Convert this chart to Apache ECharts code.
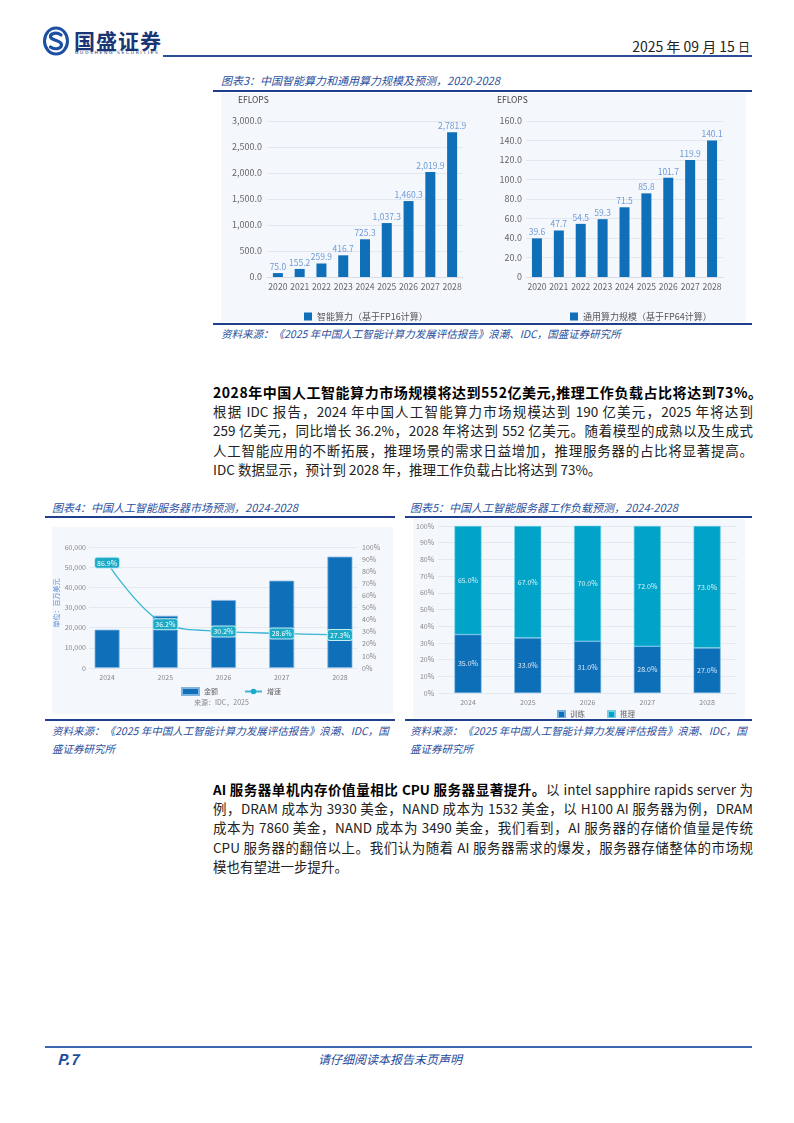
<!DOCTYPE html>
<html><head><meta charset="utf-8">
<script src="https://cdn.jsdelivr.net/npm/echarts@6/dist/echarts.min.js"></script>
<style>
body{margin:0;background:#fff;font-family:"Noto Sans CJK SC","Noto Sans",sans-serif;}
#page{position:relative;width:794px;height:1123px;overflow:hidden;}
.abs{position:absolute;}
.rule{position:absolute;height:2px;background:#1f3f8c;}
.cap{position:absolute;font-size:11px;font-style:italic;color:#2a4f9e;white-space:nowrap;}
.src{position:absolute;font-size:10.5px;font-style:italic;color:#2a4f9e;white-space:nowrap;line-height:18px;}
.para{position:absolute;left:213px;width:540px;font-size:13.5px;color:#222;}
.para div{height:19.2px;line-height:19.2px;text-align:justify;text-align-last:justify;}
.para div.last{text-align-last:left;}
.para div.head{font-size:14px;font-weight:bold;color:#000;white-space:nowrap;letter-spacing:0.55px;text-align-last:left;}
.para b{color:#000;}
.panel{position:absolute;background:#f4f7fc;}
</style></head>
<body><div id="page">
<!-- header -->
<svg class="abs" style="left:43px;top:26px" width="26" height="30" viewBox="0 0 26 30">
  <ellipse cx="13" cy="15" rx="11.5" ry="13" fill="none" stroke="#1d4fa3" stroke-width="3"/>
  <path d="M18 9 C14 6 7 7 7.5 11 C8 14.5 18 14 18.5 18.5 C19 23 11 24 7.5 21" fill="none" stroke="#1d4fa3" stroke-width="3.2" stroke-linecap="round"/>
</svg>
<div class="abs" style="left:74px;top:25px;font-size:21px;font-weight:bold;color:#1a3576;letter-spacing:1px;">国盛证券</div>
<div class="abs" style="left:75px;top:50px;font-size:4.5px;color:#1a3576;letter-spacing:1.6px;font-family:'DejaVu Sans';">GUOSHENG SECURITIES</div>
<div class="abs" style="right:44px;top:36px;font-size:14px;color:#222;">2025 年 09 月 15 <span style="font-size:12px">日</span></div>
<div class="rule" style="left:163px;top:55px;width:589px;background:#2b4e9a;"></div>

<!-- chart 3 -->
<div class="cap" style="left:221px;top:72px;">图表3：中国智能算力和通用算力规模及预测，2020-2028</div>
<div class="rule" style="left:213px;top:90px;width:539px;"></div>
<div class="panel" style="left:221px;top:93px;width:525px;height:229px;"></div>
<div id="c3" class="abs" style="left:221px;top:93px;width:525px;height:229px;"></div>
<div class="rule" style="left:213px;top:323px;width:539px;"></div>
<div class="src" style="left:221px;top:325px;">资料来源：《2025 年中国人工智能计算力发展评估报告》浪潮、IDC，国盛证券研究所</div>

<div class="para" style="top:383px;">
<div class="head">2028年中国人工智能算力市场规模将达到552亿美元,推理工作负载占比将达到73%。</div>
<div>根据 IDC 报告，2024 年中国人工智能算力市场规模达到 190 亿美元，2025 年将达到</div>
<div>259 亿美元，同比增长 36.2%，2028 年将达到 552 亿美元。随着模型的成熟以及生成式</div>
<div>人工智能应用的不断拓展，推理场景的需求日益增加，推理服务器的占比将显著提高。</div>
<div class="last">IDC 数据显示，预计到 2028 年，推理工作负载占比将达到 73%。</div>
</div>

<!-- chart 4 / 5 -->
<div class="cap" style="left:52px;top:499px;">图表4：中国人工智能服务器市场预测，2024-2028</div>
<div class="cap" style="left:410px;top:499px;">图表5：中国人工智能服务器工作负载预测，2024-2028</div>
<div class="rule" style="left:45px;top:516px;width:350px;"></div>
<div class="rule" style="left:405px;top:516px;width:347px;"></div>
<div class="panel" style="left:52px;top:527px;width:341px;height:187px;"></div>
<div id="c4" class="abs" style="left:52px;top:527px;width:341px;height:187px;"></div>
<div class="panel" style="left:413px;top:519px;width:332px;height:199px;"></div>
<div id="c5" class="abs" style="left:413px;top:519px;width:332px;height:199px;"></div>
<div class="rule" style="left:45px;top:719px;width:350px;"></div>
<div class="rule" style="left:405px;top:719px;width:347px;"></div>
<div class="src" style="left:52px;top:722px;">资料来源：《2025 年中国人工智能计算力发展评估报告》浪潮、IDC，国<br>盛证券研究所</div>
<div class="src" style="left:410px;top:722px;">资料来源：《2025 年中国人工智能计算力发展评估报告》浪潮、IDC，国<br>盛证券研究所</div>

<div class="para" style="top:780px;">
<div><b>AI 服务器单机内存价值量相比 CPU 服务器显著提升。</b>以 intel sapphire rapids server 为</div>
<div>例，DRAM 成本为 3930 美金，NAND 成本为 1532 美金，以 H100 AI 服务器为例，DRAM</div>
<div>成本为 7860 美金，NAND 成本为 3490 美金，我们看到，AI 服务器的存储价值量是传统</div>
<div>CPU 服务器的翻倍以上。我们认为随着 AI 服务器需求的爆发，服务器存储整体的市场规</div>
<div class="last">模也有望进一步提升。</div>
</div>

<!-- footer -->
<div class="rule" style="left:45px;top:1046px;width:707px;background:#3d66b0;"></div>
<div class="abs" style="left:57px;top:1048px;font-size:15px;font-weight:bold;font-style:italic;color:#1d4a9c;">P.7</div>
<div class="abs" style="left:318px;top:1050px;font-size:12px;font-style:italic;color:#1d4a9c;">请仔细阅读本报告末页声明</div>
</div>
<script>
// ---- data ----
const years3 = ['2020','2021','2022','2023','2024','2025','2026','2027','2028'];
const aiCompute = [75.0,155.2,259.9,416.7,725.3,1037.3,1460.3,2019.9,2781.9];
const generalCompute = [39.6,47.7,54.5,59.3,71.5,85.8,101.7,119.9,140.1];
const years4 = ['2024','2025','2026','2027','2028'];
const marketAmount = [19000,25900,33700,43300,55200];
const marketGrowth = [86.9,36.2,30.2,28.6,27.3];
const trainShare = [35.0,33.0,31.0,28.0,27.0];
const inferShare = [65.0,67.0,70.0,72.0,73.0];
const name3a = '智能算力（基于FP16计算）';
const name3b = '通用算力规模（基于FP64计算）';

const F = '"Noto Sans CJK SC","Noto Sans",sans-serif';
const fmt1 = v => Number(v).toLocaleString('en-US',{minimumFractionDigits:1,maximumFractionDigits:1});

// ---- chart 3 ----
const c3 = echarts.init(document.getElementById('c3'));
const lbl3 = {fontSize:9,color:'#666',fontFamily:F};
const xl3 = {fontSize:8.6,color:'#666',fontFamily:F,margin:5,interval:0};
const barLbl3 = {show:true,position:'top',distance:2,fontSize:8.5,color:'#6f9bd6',fontFamily:F,formatter:p=>fmt1(p.value)};
c3.setOption({
  animation:false,
  grid:[{left:46,top:28,width:196,height:156},{left:305,top:28,width:197,height:156}],
  xAxis:[
    {gridIndex:0,type:'category',data:years3,axisTick:{show:false},axisLine:{lineStyle:{color:'#d9dee6'}},axisLabel:xl3},
    {gridIndex:1,type:'category',data:years3,axisTick:{show:false},axisLine:{lineStyle:{color:'#d9dee6'}},axisLabel:xl3}
  ],
  yAxis:[
    {gridIndex:0,type:'value',min:0,max:3000,interval:500,axisLabel:Object.assign({margin:5,formatter:v=>fmt1(v)},lbl3),splitLine:{lineStyle:{color:'#e3e7ee'}}},
    {gridIndex:1,type:'value',min:0,max:160,interval:20,axisLabel:Object.assign({margin:4,formatter:v=>v===0?'0':v.toFixed(1)},lbl3),splitLine:{lineStyle:{color:'#e3e7ee'}}}
  ],
  legend:[
    {data:[name3a],left:78,top:214,itemWidth:8,itemHeight:8,icon:'rect',textStyle:{fontSize:9,color:'#555',fontFamily:F}},
    {data:[name3b],left:344,top:214,itemWidth:8,itemHeight:8,icon:'rect',textStyle:{fontSize:9,color:'#555',fontFamily:F}}
  ],
  graphic:[
    {type:'text',left:17,top:3,style:{text:'EFLOPS',fontSize:8.5,fill:'#444',fontFamily:F}},
    {type:'text',left:276,top:3,style:{text:'EFLOPS',fontSize:8.5,fill:'#444',fontFamily:F}}
  ],
  series:[
    {type:'bar',name:name3a,xAxisIndex:0,yAxisIndex:0,data:aiCompute,barWidth:10,itemStyle:{color:'#0f6fb8'},label:barLbl3},
    {type:'bar',name:name3b,xAxisIndex:1,yAxisIndex:1,data:generalCompute,barWidth:10,itemStyle:{color:'#0f6fb8'},label:barLbl3}
  ]
});

// ---- chart 4 ----
const c4 = echarts.init(document.getElementById('c4'));
const lbl4 = {fontSize:7,color:'#888',fontFamily:F};
c4.setOption({
  animation:false,
  grid:[{left:37,top:20,width:268,height:121},{left:26,top:20,width:291,height:121}],
  xAxis:[
    {gridIndex:0,type:'category',data:years4,show:false},
    {gridIndex:1,type:'category',data:years4,axisTick:{show:false},axisLine:{show:false},axisLabel:Object.assign({margin:6},lbl4)}
  ],
  yAxis:[
    {gridIndex:0,type:'value',min:0,max:60000,interval:10000,axisLabel:Object.assign({margin:3,formatter:v=>v.toLocaleString('en-US')},lbl4),splitLine:{lineStyle:{color:'#e4e8ef'}}},
    {gridIndex:0,type:'value',min:0,max:100,interval:10,position:'right',axisLabel:Object.assign({margin:5,formatter:v=>v+'%'},lbl4),splitLine:{show:false}},
    {gridIndex:1,type:'value',min:0,max:60000,show:false},
    {gridIndex:1,type:'value',min:0,max:100,show:false}
  ],
  legend:{data:[{name:'金额',icon:'rect'},{name:'增速'}],left:124,top:155,itemWidth:17,itemHeight:7,itemGap:26,textStyle:{fontSize:7,color:'#666',fontFamily:F}},
  graphic:[
    {type:'text',rotation:Math.PI/2,x:4,y:76,style:{text:'单位：百万美元',fontSize:7,fill:'#5a8ed2',fontFamily:F,align:'center',verticalAlign:'middle'}},
    {type:'text',left:142,top:172,style:{text:'来源：IDC，2025',fontSize:7,fill:'#888',fontFamily:F}}
  ],
  series:[
    {type:'bar',name:'金额',xAxisIndex:1,yAxisIndex:2,data:marketAmount,barWidth:25,itemStyle:{color:'#0f6fb8',borderColor:'#7fb4e0',borderWidth:0.8}},
    {type:'line',name:'增速',xAxisIndex:1,yAxisIndex:3,data:marketGrowth,smooth:0.35,symbol:'circle',symbolSize:4,
     lineStyle:{color:'#38b6d3',width:1.3},itemStyle:{color:'#1aa9c8'},
     label:{show:true,position:'inside',formatter:p=>p.value.toFixed(1)+'%',fontSize:7,color:'#fff',fontFamily:F,
       backgroundColor:'#1caac7',borderColor:'#c6ecf4',borderWidth:1,borderRadius:2,padding:[2,2,1,2]}}
  ]
});

// ---- chart 5 ----
const c5 = echarts.init(document.getElementById('c5'));
const lbl5 = {fontSize:7,color:'#888',fontFamily:F};
const segLbl = {show:true,position:'inside',fontSize:7,color:'rgba(255,255,255,0.85)',fontFamily:F,formatter:p=>p.value.toFixed(1)+'%'};
c5.setOption({
  animation:false,
  grid:{left:25,top:7,width:299,height:167},
  xAxis:{type:'category',data:years4,axisTick:{show:false},axisLine:{show:false},axisLabel:Object.assign({margin:6},lbl5)},
  yAxis:{type:'value',min:0,max:100,interval:10,axisLabel:Object.assign({margin:4,formatter:v=>v+'%'},lbl5),splitLine:{lineStyle:{color:'#e4e8ef'}}},
  legend:{data:['训练','推理'],left:139,top:186,itemWidth:7,itemHeight:7,icon:'rect',itemGap:22,textStyle:{fontSize:7.5,color:'#666',fontFamily:F}},
  series:[
    {type:'bar',name:'训练',stack:'s',data:trainShare,barWidth:27,itemStyle:{color:'#0e6fb9',borderColor:'#6fb0e0',borderWidth:0.6},label:segLbl},
    {type:'bar',name:'推理',stack:'s',data:inferShare,barWidth:27,itemStyle:{color:'#01a3c8',borderColor:'#6fd0e6',borderWidth:0.6},label:segLbl}
  ]
});
</script>
</body></html>
